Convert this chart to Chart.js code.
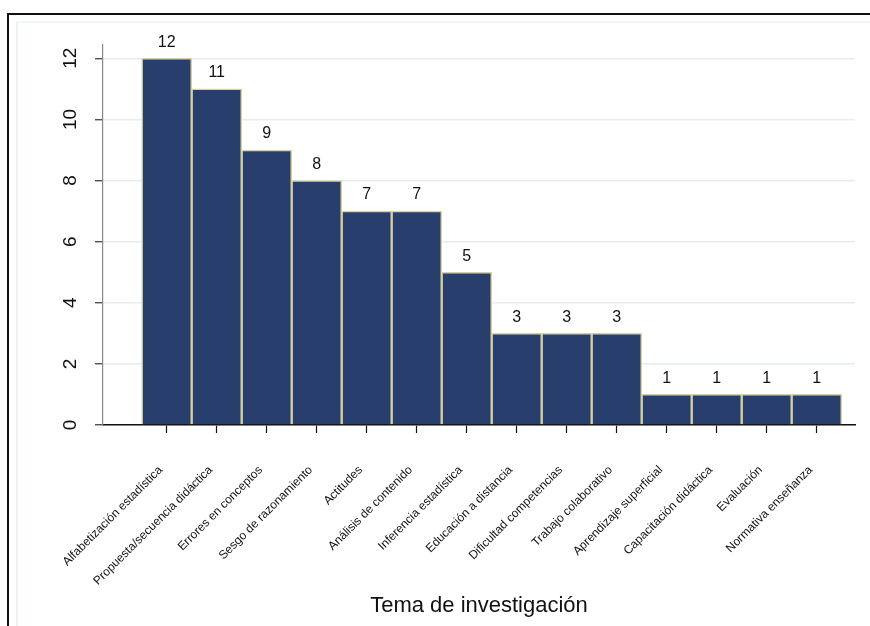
<!DOCTYPE html>
<html>
<head>
<meta charset="utf-8">
<script src="https://cdn.jsdelivr.net/npm/chart.js@4.4.0/dist/chart.umd.min.js"></script>
<style>
  body { margin: 0; background: #fff; }
  canvas { display: block; }
</style>
</head>
<body>
<canvas id="myChart1" width="870" height="626"></canvas>
<script>
// datos
var temas = ['Alfabetización estadística', 'Propuesta/secuencia didáctica', 'Errores en conceptos',
  'Sesgo de razonamiento', 'Actitudes', 'Análisis de contenido', 'Inferencia estadística',
  'Educación a distancia', 'Dificultad competencias', 'Trabajo colaborativo',
  'Aprendizaje superficial', 'Capacitación didáctica', 'Evaluación', 'Normativa enseñanza'];
var frecuencia = [12, 11, 9, 8, 7, 7, 5, 3, 3, 3, 1, 1, 1, 1];
var ticksY = [0, 2, 4, 6, 8, 10, 12];

var puntos = [];
frecuencia.forEach(function (valor, indice) {
  puntos.push({ x: indice, y: valor });
});

// marco exterior
var marco = {
  id: 'marco',
  beforeDraw: function (chart) {
    var ctx = chart.ctx;
    ctx.save();
    ctx.fillStyle = '#fff';
    ctx.fillRect(0, 0, chart.width, chart.height);
    ctx.strokeStyle = '#e3ebee';
    ctx.lineWidth = 1.2;
    ctx.beginPath();
    ctx.moveTo(17, 626); ctx.lineTo(17, 22); ctx.lineTo(870, 22);
    ctx.stroke();
    ctx.strokeStyle = '#111';
    ctx.lineWidth = 2;
    ctx.beginPath();
    ctx.moveTo(8, 626); ctx.lineTo(8, 14); ctx.lineTo(870, 14);
    ctx.stroke();
    ctx.restore();
  }
};

// etiquetas de valores y del eje y
var etiquetas = {
  id: 'etiquetas',
  afterDatasetsDraw: function (chart) {
    var ctx = chart.ctx;
    ctx.save();
    ctx.fillStyle = '#111';
    ctx.font = '16px "Liberation Sans", Arial, sans-serif';
    ctx.textAlign = 'center';
    ctx.textBaseline = 'bottom';
    chart.getDatasetMeta(0).data.forEach(function (bar, i) {
      ctx.fillText(frecuencia[i], bar.x, bar.y - 8);
    });
    var y = chart.scales.y;
    ctx.font = '19px "Liberation Sans", Arial, sans-serif';
    ticksY.forEach(function (t) {
      ctx.save();
      ctx.translate(80, y.getPixelForValue(t));
      ctx.rotate(-Math.PI / 2);
      ctx.textAlign = 'center';
      ctx.textBaseline = 'bottom';
      ctx.fillText(String(t), 0, 0);
      ctx.restore();
    });
    ctx.restore();
  }
};

var ctx = document.getElementById('myChart1');
new Chart(ctx, {
  type: 'bar',
  data: {
    datasets: [{
      data: puntos,
      backgroundColor: '#283f6d',
      borderColor: '#d9d2a0',
      borderWidth: 1.5,
      barPercentage: 1,
      categoryPercentage: 1
    }]
  },
  options: {
    responsive: false,
    animation: false,
    layout: { padding: { top: 45, right: 15, left: 0, bottom: 0 } },
    plugins: { legend: { display: false }, tooltip: { enabled: false } },
    scales: {
      x: {
        type: 'linear',
        offset: false,
        min: -1.274,
        max: 13.766,
        afterFit: function (scale) { scale.height = 201; },
        afterBuildTicks: function (scale) {
          scale.ticks = temas.map(function (t, i) { return { value: i }; });
        },
        ticks: {
          autoSkip: false,
          includeBounds: false,
          minRotation: 45,
          maxRotation: 45,
          padding: 30,
          labelOffset: -6,
          color: '#111',
          font: { family: '"Liberation Sans", Arial, sans-serif', size: 12 },
          callback: function (value) { return temas[value]; }
        },
        grid: { offset: false, drawOnChartArea: false, color: 'rgba(0,0,0,0)', tickColor: '#111', tickLength: 8, tickWidth: 1.2 },
        border: { color: '#111', width: 1.5 },
        title: {
          display: true,
          text: 'Tema de investigación',
          color: '#111',
          font: { family: '"Liberation Sans", Arial, sans-serif', size: 22 },
          padding: { top: 0, bottom: 7 }
        }
      },
      y: {
        min: 0,
        max: 12.435,
        afterFit: function (scale) { scale.width = 103; },
        afterBuildTicks: function (scale) {
          scale.ticks = ticksY.map(function (v) { return { value: v }; });
        },
        ticks: { display: false },
        grid: { color: '#e6edf1', lineWidth: 1.5, tickColor: '#333', tickLength: 8, tickWidth: 1.2 },
        border: { color: '#888', width: 1.2 }
      }
    }
  },
  plugins: [marco, etiquetas]
});
</script>
</body>
</html>
